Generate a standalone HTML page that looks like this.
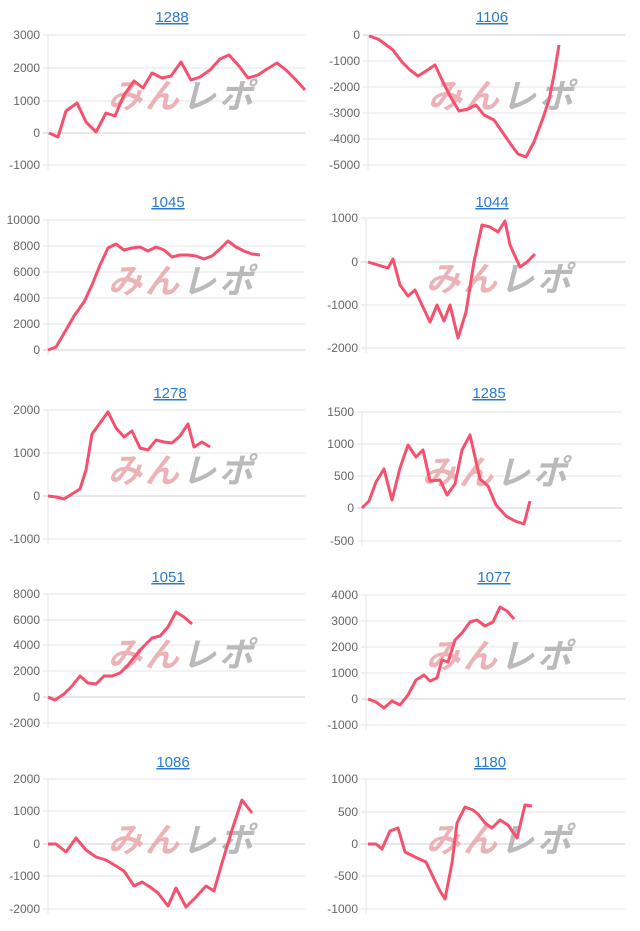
<!DOCTYPE html><html><head><meta charset="utf-8"><style>
body{margin:0;background:#fff;width:640px;height:931px;overflow:hidden}
svg{display:block}
.t{font:15px "Liberation Sans",sans-serif;fill:#2a7ad2;text-decoration:underline}
.k{font:12px "Liberation Sans",sans-serif;fill:#666}
.w{font:italic bold 34px "Liberation Sans","Noto Sans CJK JP",sans-serif;letter-spacing:3px}
</style></head><body>
<svg id="s" width="640" height="931" xmlns="http://www.w3.org/2000/svg"></svg>
<script>
const C=[
{t:"1288",tx:172,ty:17,ax:48,r:305,ticks:[[3000,35],[2000,68],[1000,101],[0,133],[-1000,165]],
p:"49,133 58,137 66,111 77,103 86,122 96,132 106,113 115,116 124,95 134,81 143,88 152,73 162,78 171,76 181,62 191,80 200,77 210,70 220,59 229,55 239,66 248,78 258,75 267,69 277,63 286,70 296,80 305,90"},
{t:"1106",tx:492,ty:17,ax:368,r:625,ticks:[[0,35],[-1000,61],[-2000,87],[-3000,113],[-4000,139],[-5000,165]],
p:"369,36 378,39 385,44 393,50 402,62 410,70 418,76 426,71 435,65 443,82 450,96 459,111 468,109 476,105 484,115 494,120 503,133 512,146 518,154 526,157 534,142 543,118 549,100 554,75 559,45"},
{t:"1045",tx:168,ty:202,ax:48,r:305,ticks:[[10000,220],[8000,246],[6000,272],[4000,298],[2000,324],[0,350]],
p:"48,350 56,347 66,330 74,316 84,302 92,285 100,265 108,248 116,244 124,250 132,248 140,247 148,251 156,247 164,250 172,257 180,255 188,255 196,256 204,259 212,256 220,249 228,241 236,247 244,251 252,254 260,255"},
{t:"1044",tx:492,ty:202,ax:366,r:625,ticks:[[1000,218],[0,262],[-1000,305],[-2000,348]],
p:"368,262 378,265 388,268 393,259 400,285 408,296 415,290 422,305 430,322 437,305 444,321 450,305 458,338 466,312 474,262 482,225 490,227 498,232 505,221 510,245 520,267 527,262 535,254"},
{t:"1278",tx:170,ty:393,ax:48,r:305,ticks:[[2000,410],[1000,453],[0,496],[-1000,539]],
p:"48,496 56,497 64,499 72,494 80,489 86,470 92,434 100,423 108,412 116,428 124,437 132,431 140,448 148,450 156,440 164,442 172,443 180,436 188,424 194,447 202,442 210,447"},
{t:"1285",tx:489,ty:393,ax:362,r:622,ticks:[[1500,412],[1000,444],[500,476],[0,508],[-500,541]],
p:"362,508 369,501 376,482 384,469 392,500 400,468 408,445 416,457 423,450 430,481 440,480 447,495 455,484 462,450 470,435 480,479 488,486 496,505 506,516 515,521 524,524 530,501"},
{t:"1051",tx:168,ty:577,ax:48,r:305,ticks:[[8000,594],[6000,620],[4000,645],[2000,671],[0,697],[-2000,723]],
p:"48,697 55,700 64,694 72,686 80,676 88,683 96,684 104,676 112,676 120,673 128,665 136,655 144,646 152,638 160,636 168,627 176,612 184,617 192,624"},
{t:"1077",tx:494,ty:577,ax:366,r:625,ticks:[[4000,595],[3000,621],[2000,647],[1000,673],[0,699],[-1000,725]],
p:"368,699 376,702 384,708 392,701 400,705 408,695 416,680 424,675 430,681 437,678 442,660 448,662 455,640 462,633 470,622 477,620 485,626 493,622 500,607 507,611 514,619"},
{t:"1086",tx:173,ty:762,ax:48,r:305,ticks:[[2000,779],[1000,811],[0,844],[-1000,876],[-2000,909]],
p:"48,844 56,844 66,852 76,838 86,850 96,857 106,860 116,866 124,871 134,886 142,882 150,887 158,893 168,906 176,888 186,907 196,897 206,886 214,891 222,863 232,830 242,800 252,813"},
{t:"1180",tx:490,ty:762,ax:366,r:625,ticks:[[1000,779],[500,812],[0,844],[-500,876],[-1000,909]],
p:"368,844 376,844 382,849 390,831 398,828 405,852 415,857 426,862 435,881 440,891 445,899 452,863 457,823 465,807 473,810 478,814 485,823 492,828 500,820 508,825 517,838 525,805 532,806"}
];
let h="";
for(const c of C){
 h+=`<text class="t" x="${c.tx}" y="${c.ty+5}" text-anchor="middle">${c.t}</text>`;
 const top=c.ticks[0][1],bot=c.ticks[c.ticks.length-1][1];
 h+=`<line x1="${c.ax}" y1="${top}" x2="${c.ax}" y2="${bot+5}" stroke="#e6e6e6"/>`;
 for(const [v,y] of c.ticks){
  h+=`<line x1="${c.ax-5}" y1="${y}" x2="${c.r}" y2="${y}" stroke="${v==0?'#d0d0d0':'#e6e6e6'}"/>`;
  h+=`<text class="k" x="${c.ax-8}" y="${y+4}" text-anchor="end">${v}</text>`;
 }
 const wx=c.ax+60, wy=(top+bot)/2+8;
 h+=`<text class="w" x="${wx}" y="${wy}" fill="#e8a0a4" opacity="0.8">みん<tspan fill="#aaa">レポ</tspan></text>`;
 h+=`<polyline points="${c.p}" fill="none" stroke="#f5506e" stroke-width="3" stroke-linejoin="round"/>`;
}
document.getElementById("s").innerHTML=h;
</script></body></html>
